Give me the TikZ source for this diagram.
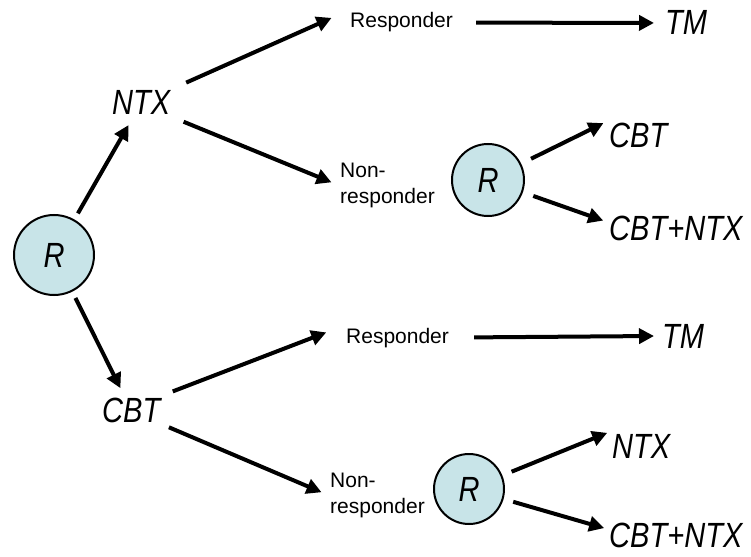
\documentclass[tikz,border=0pt]{standalone}
\usepackage{fontspec}
\setmainfont{Liberation Sans}
\newfontfamily\bigfont[FakeStretch=0.83]{Liberation Sans}
\usetikzlibrary{arrows.meta}
\definecolor{randfill}{RGB}{200,228,232}

\begin{document}
\begin{tikzpicture}[x=1pt, y=-1pt,
  rnd/.style={draw, circle, line width=2pt, fill=randfill, inner sep=0pt, font=\bigfont\itshape\fontsize{35}{38}\selectfont},
  arm/.style={inner sep=2pt, anchor=base west, font=\bigfont\itshape\fontsize{35}{38}\selectfont},
  lbl/.style={inner sep=2pt, align=left, font=\fontsize{21}{26}\selectfont},
  arr/.style={-{Triangle[length=15pt, width=15pt]}, line width=4pt}]
\useasboundingbox (0,0) rectangle (751,556);

\node[rnd, minimum size=80pt] (r) at (54,255) {R};

\node[arm] (n) at (110,115) {NTX};
\node[arm] (c) at (100,422) {CBT};

\node[lbl, anchor=base west] (p1) at (348,28) {Responder};
\node[arm] (t1) at (663,35) {TM};
\node[lbl, anchor=west] (q1) at (338,185) {Non-\\responder};
\node[rnd, minimum size=72pt] (r1) at (488,180) {R};
\node[arm] (c1) at (607,148) {CBT};
\node[arm] (cn1) at (607,240) {CBT+NTX};

\node[lbl, anchor=base west] (p2) at (344,343) {Responder};
\node[arm] (t2) at (660,348) {TM};
\node[lbl, anchor=west] (q2) at (328,495) {Non-\\responder};
\node[rnd, minimum size=70pt] (r2) at (469,489) {R};
\node[arm] (n2) at (610,458) {NTX};
\node[arm] (cn2) at (607,547) {CBT+NTX};

\draw[arr, shorten <=7pt, shorten >=9pt] (r) -- (n);
\draw[arr, shorten <=7pt, shorten >=8pt] (r) -- (c);

\draw[arr, shorten <=15pt, shorten >=18pt] (n.north east) -- (p1.north west);
\draw[arr, shorten <=12pt, shorten >=7pt] (n.south east) -- (q1.west);
\draw[arr, shorten <=21pt, shorten >=9pt] (p1.east) -- (t1.west);
\draw[arr, shorten <=11pt, shorten >=4pt] (r1) -- (c1.north west);
\draw[arr, shorten <=11pt, shorten >=4pt] (r1) -- (cn1.175);

\draw[arr, shorten <=11pt, shorten >=19pt] (c.north east) -- (p2.north west);
\draw[arr, shorten <=7pt, shorten >=7pt] (c.south east) -- (q2.west);
\draw[arr, shorten <=23pt, shorten >=6pt] (p2.east) -- (t2.west);
\draw[arr, shorten <=10pt, shorten >=3pt] (r2) -- (n2.north west);
\draw[arr, shorten <=10pt, shorten >=3pt] (r2) -- (cn2.175);
\end{tikzpicture}
\end{document}
